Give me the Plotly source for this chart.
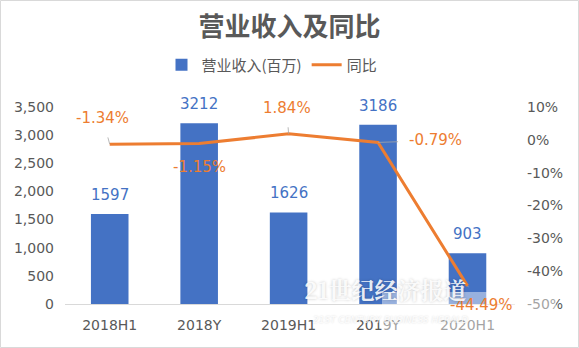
import plotly.graph_objects as go

# Revenue (million) and year-on-year change by period
periods = ["2018H1", "2018Y", "2019H1", "2019Y", "2020H1"]
revenue = [1597, 3212, 1626, 3186, 903]
yoy_pct = [-1.34, -1.15, 1.84, -0.79, -44.49]

left_ticks = [0, 500, 1000, 1500, 2000, 2500, 3000, 3500]
right_ticks = [-50, -40, -30, -20, -10, 0, 10]

# pixel offsets for the change labels (ax, ay, draw leader line)
label_offsets = [(-7, -26, True), (0, 23, False), (-2, -26, True), (57, -2, True), (14, 19, True)]

BLUE = "#4472C4"
ORANGE = "#ED7D31"
GRAY = "#595959"
CJK = "Noto Sans CJK SC"
NUM = "DejaVu Sans"

W, H = 579, 348
L, R, T, B = 65, 64, 107, 44
pw, ph = W - L - R, H - T - B


def px_x(x):
    return (x - L) / pw


def px_y(y):
    return (H - B - y) / ph


fig = go.Figure()
fig.add_trace(go.Bar(
    x=periods, y=revenue, name="营业收入(百万)",
    marker=dict(color=BLUE, line=dict(width=0)),
    width=0.42,
))
fig.add_trace(go.Scatter(
    x=periods, y=[v / 100 for v in yoy_pct], name="同比", yaxis="y2",
    mode="lines", line=dict(color=ORANGE, width=3),
))

# value labels above the bars
for p, v in zip(periods, revenue):
    fig.add_annotation(
        x=p, y=v, xref="x", yref="y", text=str(v), showarrow=False,
        yanchor="bottom", yshift=8,
        font=dict(color=BLUE, size=15, family=NUM),
    )

# change labels, most with a thin leader line
for p, v, (ax, ay, lead) in zip(periods, yoy_pct, label_offsets):
    if lead:
        fig.add_annotation(
            x=p, y=v / 100, yref="y2", xref="x",
            text=f"{v:.2f}%", ax=ax, ay=ay,
            showarrow=True, arrowhead=0, arrowwidth=0.8, arrowcolor="#a6a6a6",
            standoff=0, startstandoff=9,
            font=dict(color=ORANGE, size=15, family=NUM),
        )
    else:
        fig.add_annotation(
            x=p, y=v / 100, yref="y2", xref="x", text=f"{v:.2f}%",
            showarrow=False, xshift=ax, yshift=-ay,
            font=dict(color=ORANGE, size=15, family=NUM),
        )

# watermark with soft white haze
fig.add_shape(
    type="rect", xref="paper", yref="paper",
    x0=px_x(382), x1=px_x(556), y0=px_y(340), y1=px_y(292),
    fillcolor="rgba(255,255,255,0.45)", line=dict(width=0), layer="above",
)
fig.add_annotation(
    xref="paper", yref="paper", x=px_x(468), y=px_y(308),
    text="<b>21世纪经济报道</b>", showarrow=False,
    font=dict(color="rgba(255,255,255,0.9)", size=23, family="Noto Serif CJK SC, " + CJK,
              shadow="0px 0px 3px rgba(0,0,0,0.25)"),
)
fig.add_annotation(
    xref="paper", yref="paper", x=px_x(470), y=px_y(327),
    text="<i>21ST CENTURY BUSINESS HERALD</i>", showarrow=False,
    font=dict(color="rgba(255,255,255,0.9)", size=9, family=NUM,
              shadow="0px 0px 2px rgba(0,0,0,0.2)"),
)

# outer frame
fig.add_shape(
    type="rect", xref="paper", yref="paper",
    x0=px_x(0.5), x1=px_x(W - 0.5), y0=px_y(H - 0.5), y1=px_y(0.5),
    line=dict(color="#d9d9d9", width=1), layer="below",
)

fig.update_layout(
    width=W, height=H,
    margin=dict(l=L, r=R, t=T, b=B),
    paper_bgcolor="white", plot_bgcolor="white",
    font=dict(family=CJK, color=GRAY),
    title=dict(text="<b>营业收入及同比</b>", x=0.5, xanchor="center",
               y=1 - 27 / H, yanchor="middle", yref="container",
               font=dict(size=26, color=GRAY, family=CJK)),
    legend=dict(orientation="h", x=px_x(272), xanchor="center",
                y=px_y(65), yanchor="middle",
                font=dict(size=15, color=GRAY, family=CJK),
                itemwidth=30, traceorder="normal"),
    showlegend=True,
    bargap=0.58,
    xaxis=dict(showgrid=False, showline=True, linecolor="#d9d9d9", linewidth=1,
               ticks="", tickfont=dict(size=14, color=GRAY, family=NUM),
               zeroline=False, ticklabelstandoff=8),
    yaxis=dict(range=[0, 3500], tickvals=left_ticks,
               ticktext=[f"{v:,}" for v in left_ticks],
               showgrid=False, zeroline=False, showline=False,
               tickfont=dict(size=14, color=GRAY, family=NUM), ticks="",
               ticklabelstandoff=10),
    yaxis2=dict(range=[-0.5, 0.1], tickvals=[v / 100 for v in right_ticks],
                ticktext=[f"{v}%" for v in right_ticks],
                overlaying="y", side="right", showgrid=False, zeroline=False,
                showline=False, tickfont=dict(size=14, color=GRAY, family=NUM),
                ticks="", ticklabelstandoff=11),
)

fig.write_html("out.html")
